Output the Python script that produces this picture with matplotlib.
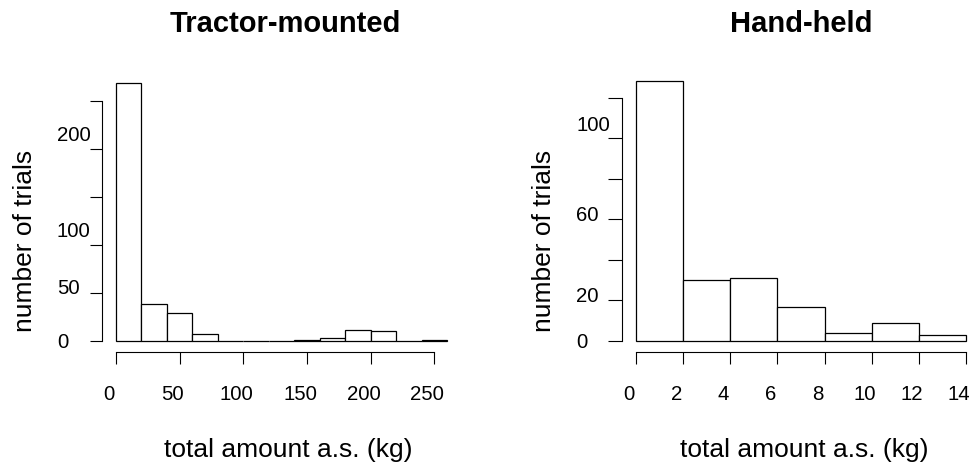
import matplotlib.pyplot as plt
from matplotlib import transforms

plt.rcParams['font.family'] = ['Liberation Sans', 'DejaVu Sans']

# Гистограммы: границы интервалов и число испытаний
tractor_breaks = [0, 20, 40, 60, 80, 100, 120, 140, 160, 180, 200, 220, 240, 260]
tractor_counts = [268, 39, 29, 7, 0, 0, 0, 1, 3, 11, 10, 0, 1]
tractor_xticks = [0, 50, 100, 150, 200, 250]
tractor_yticks = [0, 50, 100, 150, 200, 250]
tractor_ylabels = [0, 50, 100, 200]

hand_breaks = [0, 2, 4, 6, 8, 10, 12, 14]
hand_counts = [128, 30, 31, 17, 4, 9, 3]
hand_xticks = [0, 2, 4, 6, 8, 10, 12, 14]
hand_yticks = [0, 20, 40, 60, 80, 100, 120]
hand_ylabels = [0, 20, 60, 100]

W, H = 974, 465
fig = plt.figure(figsize=(W / 100, H / 100), dpi=100)


def px_axes(left, right, top, bottom):
    # прямоугольник осей в пикселях (отсчёт сверху)
    return fig.add_axes([left / W, 1 - bottom / H, (right - left) / W, (bottom - top) / H])


def draw_hist(ax, breaks, counts, xticks, yticks, ylabels, ylab_x, title, title_x,
              ylabel_x, ytick_len):
    widths = [b - a for a, b in zip(breaks[:-1], breaks[1:])]
    ax.bar(breaks[:-1], counts, width=widths, align='edge', color='white',
           edgecolor='black', linewidth=0.9, clip_on=False)
    ax.set_xlim(xticks[0], xticks[-1])
    ax.set_ylim(yticks[0], yticks[-1])

    for s in ['top', 'right']:
        ax.spines[s].set_visible(False)
    ax.spines['left'].set_position(('outward', 9.9))
    ax.spines['bottom'].set_position(('outward', 7.9))
    for s in ['left', 'bottom']:
        ax.spines[s].set_linewidth(0.8)
    ax.set_xticks(xticks)
    ax.set_yticks(yticks)
    ax.set_xticklabels([])
    ax.set_yticklabels([])
    ax.tick_params(axis='x', length=8.4, width=0.8, direction='out')
    ax.tick_params(axis='y', length=ytick_len, width=0.8, direction='out')

    # подписи делений
    xtr = transforms.offset_copy(ax.get_xaxis_transform(), fig, x=-7, y=-54, units='dots')
    for v in xticks:
        ax.text(v, 0, str(v), transform=xtr, ha='center', va='center', fontsize=14.7)
    shift = {1: 2, 2: -4, 3: -13}
    for v in ylabels:
        lab = str(v)
        ytr = transforms.offset_copy(
            transforms.blended_transform_factory(fig.transFigure, ax.transData),
            fig, x=0, y=-shift[len(lab)], units='dots')
        ax.text(ylab_x / W, v, lab, transform=ytr, ha='left', va='center', fontsize=14.7)

    fig.text(title_x / W, 1 - 32 / H, title, ha='center', va='baseline',
             fontsize=21, fontweight='bold')
    fig.text(title_x / W + 3 / W, 1 - 457 / H, 'total amount a.s. (kg)',
             ha='center', va='baseline', fontsize=19)
    fig.text(ylabel_x / W, 1 - 241 / H, 'number of trials', rotation=90,
             rotation_mode='anchor', ha='center', va='baseline', fontsize=19)


ax1 = px_axes(116, 434.3, 100.7, 341)
draw_hist(ax1, tractor_breaks, tractor_counts, tractor_xticks, tractor_yticks,
          tractor_ylabels, 57, 'Tractor-mounted', 285, 32.3, 8.8)

ax2 = px_axes(636, 966, 97.7, 341)
draw_hist(ax2, hand_breaks, hand_counts, hand_xticks, hand_yticks,
          hand_ylabels, 576, 'Hand-held', 801, 550.7, 10)

fig.savefig('out.png', dpi=100)
